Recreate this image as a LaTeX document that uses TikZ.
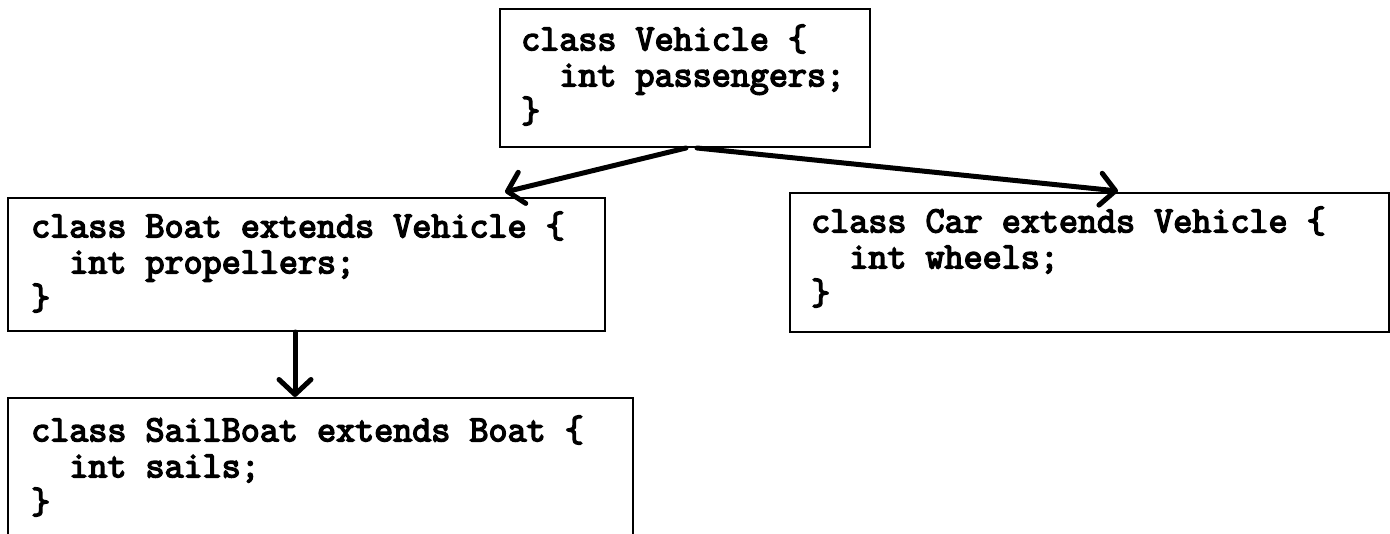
\documentclass[tikz,border=0pt]{standalone}
\usepackage{fontspec}
\newfontfamily\codefont{Latin Modern Mono}[FakeBold=4]
\usetikzlibrary{arrows.meta}
\begin{document}
\begin{tikzpicture}[x=1pt,y=-1pt,
  box/.style={draw=black, line width=2pt, rectangle, inner sep=0pt},
  code/.style={anchor=west, align=left, inner sep=0pt,
    font=\fontsize{37}{36}\selectfont\codefont},
  inh/.style={line width=5pt, line cap=round, line join=round,
    -{Straight Barb[length=15pt,width=32pt,line cap=round,line join=round]}}
]
\useasboundingbox (0,0) rectangle (1390,533);
\clip (0,0) rectangle (1390,533);
\node[box, minimum width=370pt, minimum height=138pt] (veh) at (685,78) {};
\node[box, minimum width=597pt, minimum height=133pt] (boat) at (306.5,264.5) {};
\node[box, minimum width=599pt, minimum height=139pt] (car) at (1089.5,262.5) {};
\node[box, minimum width=625pt, minimum height=222pt] (sail) at (320.5,509) {};

\node[code] (vehT) at (521,75) {class Vehicle \{\\\phantom{ii}int passengers;\\\}};
\node[code] (boatT) at (31,262) {class Boat extends Vehicle \{\\\phantom{ii}int propellers;\\\}};
\node[code] (carT) at (811,257) {class Car extends Vehicle \{\\\phantom{ii}int wheels;\\\}};
\node[code] (sailT) at (31,466) {class SailBoat extends Boat \{\\\phantom{ii}int sails;\\\}};

\draw[inh] ([xshift=1pt]veh.south) -- ([xshift=198.5pt,yshift=5pt]boat.north);
\draw[inh] ([xshift=12pt]veh.south) -- ([xshift=28.5pt,yshift=1pt]car.north);
\draw[inh] ([xshift=-11.5pt]boat.south) -- ([xshift=-25.5pt]sail.north);
\end{tikzpicture}
\end{document}
